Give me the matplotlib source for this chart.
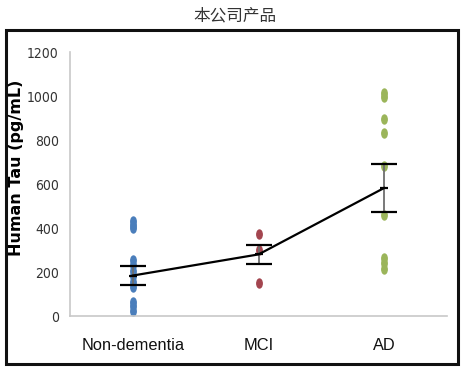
import matplotlib
matplotlib.use("Agg")
import matplotlib.pyplot as plt
from matplotlib.path import Path
from matplotlib.transforms import Affine2D
from matplotlib.patches import Rectangle

# data
groups = ["Non-dementia", "MCI", "AD"]
nd_values = [430, 415, 400, 255, 230, 205, 180, 155, 130, 65, 45, 25]
mci_values = [373, 300, 150]
ad_values = [1015, 995, 895, 830, 680, 460, 265, 240, 215]
means = [184, 280, 582]
errors = [45, 45, 107]
y_ticks = [0, 200, 400, 600, 800, 1000, 1200]

colors = ["#4a7ebb", "#a3454f", "#9bb55a"]

# vertically stretched dot like the original
ellipse = Path.unit_circle().transformed(Affine2D().scale(0.6, 1.0))

fig = plt.figure(figsize=(4.7, 3.75), dpi=100)
ax = fig.add_axes([0.149, 0.1573, 0.802, 0.704])

for i, vals in enumerate([nd_values, mci_values, ad_values]):
    ax.plot([i] * len(vals), vals, linestyle="none", marker=ellipse,
            markersize=6.5, color=colors[i], zorder=2)

x = list(range(len(groups)))
ax.errorbar(x, means, yerr=errors, fmt="none", ecolor="#6e6e6e",
            elinewidth=1.3, capsize=0, zorder=3)
ax.errorbar(x, means, yerr=errors, fmt="none", ecolor="black",
            elinewidth=0, capsize=9.5, capthick=1.6, zorder=3)
ax.plot(x, means, color="black", linewidth=1.6, marker="_",
        markersize=6, markeredgewidth=1.6, zorder=4)

ax.set_xlim(-0.5, 2.5)
ax.set_ylim(0, 1200)
ax.set_yticks(y_ticks)
ax.set_yticklabels([str(v) for v in y_ticks], family="DejaVu Sans",
                   stretch="condensed", fontsize=10, color="#333333")
ax.set_xticks(x)
ax.set_xticklabels(groups, family="Liberation Sans", fontsize=11.8, color="#111111")
ax.tick_params(axis="y", length=0, pad=8)
ax.tick_params(axis="x", length=0, pad=16)

for side in ["top", "right"]:
    ax.spines[side].set_visible(False)
for side in ["left", "bottom"]:
    ax.spines[side].set_color("#c8c8c8")
    ax.spines[side].set_linewidth(1.2)

fig.text(0.036, 0.552, "Human Tau (pg/mL)", rotation=90, ha="center", va="center",
         fontsize=11.5, fontweight="bold", family="DejaVu Sans")

fig.text(0.5, 0.957, "本公司产品", ha="center", va="center", fontsize=12,
         family=["Noto Sans CJK SC", "DejaVu Sans"], color="#333333")

# black frame round the plot area
fig.patches.append(Rectangle((0.0128, 0.0293), 0.9612, 0.8907, transform=fig.transFigure,
                             fill=False, edgecolor="#111111", linewidth=2.2))

fig.savefig("out.png", dpi=100)
